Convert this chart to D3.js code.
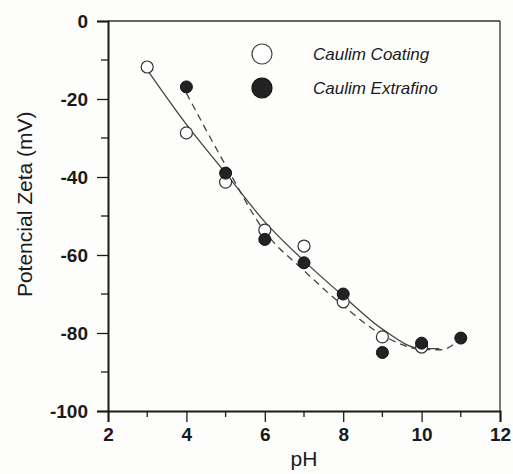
<!DOCTYPE html>
<html>
<head>
<meta charset="utf-8">
<script src="https://cdn.jsdelivr.net/npm/d3@7/dist/d3.min.js"></script>
<style>
  body { margin: 0; background: #fdfdfb; }
  svg { display: block; }
  text { font-family: "Liberation Sans", Arial, sans-serif; fill: #1a1a1a; }
</style>
</head>
<body>
<svg id="chart" width="513" height="474"></svg>
<script>
let phCoating = [3, 4, 5, 6, 7, 8, 9, 10];
let zetaCoating = [-11.8, -28.7, -41.3, -53.6, -57.7, -72, -81, -83.6];
let phExtra = [4, 5, 6, 7, 8, 9, 10, 11];
let zetaExtra = [-16.9, -39, -56, -62, -70, -85, -82.6, -81.3];

// fitted curves (solid = coating, dashed = extrafino)
let fitCoatingPH = [3, 4, 5, 6, 7, 8, 9, 10, 10.45];
let fitCoatingZeta = [-12.5, -26.5, -39, -51.5, -61.5, -70.5, -79, -84, -84];
let fitExtraPH = [4, 5, 6, 7, 8, 9, 10, 10.5, 11];
let fitExtraZeta = [-18.5, -37, -54, -64, -73, -80.5, -84.2, -84.3, -81.3];

let xTicks = [2, 4, 6, 8, 10, 12];
let yTicks = [0, -20, -40, -60, -80, -100];
let xMinor = [3, 5, 7, 9, 11];
let yMinor = [-10, -30, -50, -70, -90];

let legendLabels = ["Caulim Coating", "Caulim Extrafino"];

let svg = d3.select("#chart");
let plotLeft = 108, plotRight = 500, plotTop = 21, plotBottom = 411;

let x = d3.scaleLinear().domain([2, 12]).range([plotLeft, plotRight]);
let y = d3.scaleLinear().domain([-100, 0]).range([plotBottom, plotTop]);

// plain hyphen for negatives, like the original print
let plainFormat = function (d) { return String(d); };

// frame top and right
svg.append("line")
  .attr("x1", plotLeft).attr("x2", plotRight).attr("y1", plotTop).attr("y2", plotTop)
  .style("stroke", "#333").style("stroke-width", 1.3);
svg.append("line")
  .attr("x1", plotRight).attr("x2", plotRight).attr("y1", plotTop).attr("y2", plotBottom)
  .style("stroke", "#333").style("stroke-width", 1.3);

// axes
let xAxis = svg.append("g")
  .attr("transform", "translate(0," + plotBottom + ")")
  .call(d3.axisBottom(x).tickValues(xTicks).tickSize(11).tickPadding(6).tickFormat(plainFormat));
xAxis.append("g").selectAll("line")
  .data(xMinor)
  .enter().append("line")
  .attr("x1", function (d) { return x(d); })
  .attr("x2", function (d) { return x(d); })
  .attr("y1", 0).attr("y2", 6);

let yAxis = svg.append("g")
  .attr("transform", "translate(" + plotLeft + ",0)")
  .call(d3.axisLeft(y).tickValues(yTicks).tickSize(11).tickPadding(9).tickFormat(plainFormat));
yAxis.append("g").selectAll("line")
  .data(yMinor)
  .enter().append("line")
  .attr("y1", function (d) { return y(d); })
  .attr("y2", function (d) { return y(d); })
  .attr("x1", 0).attr("x2", -7);

svg.selectAll(".domain").style("stroke", "#1a1a1a").style("stroke-width", 2);
svg.selectAll(".tick line").style("stroke", "#1a1a1a").style("stroke-width", 1.3);
xAxis.selectAll("g > line").style("stroke", "#1a1a1a").style("stroke-width", 1.3);
yAxis.selectAll("g > line").style("stroke", "#1a1a1a").style("stroke-width", 1.3);
svg.selectAll(".tick text")
  .style("font-size", "19px")
  .style("font-weight", "bold")
  .style("fill", "#1a1a1a");

// axis titles
svg.append("text")
  .attr("x", x(7)).attr("y", 466)
  .attr("text-anchor", "middle")
  .style("font-size", "21px")
  .text("pH");
svg.append("text")
  .attr("transform", "translate(32," + y(-47) + ") rotate(-90)")
  .attr("text-anchor", "middle")
  .style("font-size", "21px")
  .text("Potencial Zeta (mV)");

// fitted curves
let line = d3.line()
  .x(function (d) { return x(d[0]); })
  .y(function (d) { return y(d[1]); })
  .curve(d3.curveMonotoneX);

svg.append("path")
  .attr("d", line(d3.zip(fitCoatingPH, fitCoatingZeta)))
  .style("fill", "none")
  .style("stroke", "#444")
  .style("stroke-width", 1.3);
svg.append("path")
  .attr("d", line(d3.zip(fitExtraPH, fitExtraZeta)))
  .style("fill", "none")
  .style("stroke", "#444")
  .style("stroke-width", 1.3)
  .style("stroke-dasharray", "7,5");

// points: open ones first, filled ones drawn on top
svg.append("g").selectAll("circle")
  .data(d3.zip(phCoating, zetaCoating))
  .enter().append("circle")
  .attr("cx", function (d) { return x(d[0]); })
  .attr("cy", function (d) { return y(d[1]); })
  .attr("r", 6)
  .style("fill", "#fff")
  .style("stroke", "#333")
  .style("stroke-width", 1.2);
svg.append("g").selectAll("circle")
  .data(d3.zip(phExtra, zetaExtra))
  .enter().append("circle")
  .attr("cx", function (d) { return x(d[0]); })
  .attr("cy", function (d) { return y(d[1]); })
  .attr("r", 6)
  .style("fill", "#222")
  .style("stroke", "#111")
  .style("stroke-width", 1);

// legend
let legend = svg.append("g").attr("transform", "translate(262,54)");
legendLabels.forEach(function (label, i)
{
  legend.append("circle")
    .attr("cx", 0).attr("cy", i * 34)
    .attr("r", 10)
    .style("fill", i == 0 ? "#fff" : "#222")
    .style("stroke", i == 0 ? "#444" : "#111")
    .style("stroke-width", 1.2);
  legend.append("text")
    .attr("x", 51).attr("y", i * 34)
    .attr("dy", "0.35em")
    .style("font-size", "17px")
    .style("font-style", "italic")
    .text(label);
});
</script>
</body>
</html>
